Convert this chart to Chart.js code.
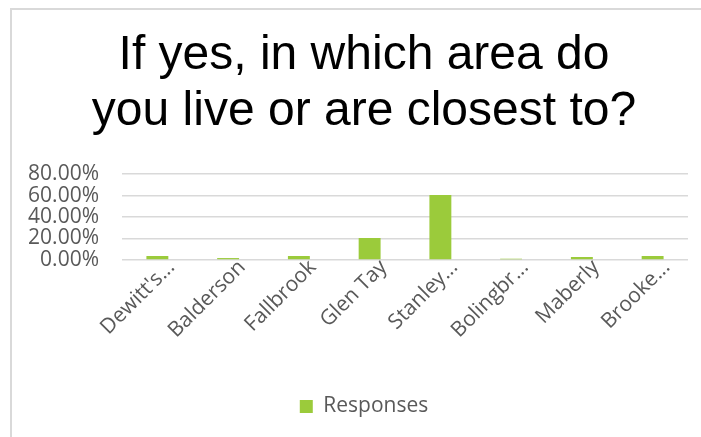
<!DOCTYPE html>
<html>
<head>
<meta charset="utf-8">
<script src="https://cdn.jsdelivr.net/npm/chart.js@4"></script>
<style>
  html, body { margin: 0; padding: 0; background: #fff; }
  #wrap { position: relative; width: 701px; height: 437px; overflow: hidden; }
  #frame { position: absolute; left: 10px; top: 8px; right: -5px; bottom: -5px;
           border-left: 2px solid #d9d9d9; border-top: 2px solid #d9d9d9; }
  #c { position: absolute; left: 0; top: 0; }
</style>
</head>
<body>
<div id="wrap">
  <div id="frame"></div>
  <!-- the chart box runs past the right edge of the window, like the cropped original -->
  <canvas id="c" width="728" height="437"></canvas>
</div>
<script>
const areas = ["Dewitt's...", 'Balderson', 'Fallbrook', 'Glen Tay', 'Stanley...', 'Bolingbr...', 'Maberly', 'Brooke...'];
const responses = [3.7, 1.8, 3.7, 20.5, 60.4, 1.2, 2.8, 3.7];
const titleLines = ['If yes, in which area do', 'you live or are closest to?'];
const yTicks = [0, 20, 40, 60, 80];

const axisFont = { family: "'Open Sans', 'Noto Sans', sans-serif", size: 21 };

new Chart(document.getElementById('c').getContext('2d'), {
  type: 'bar',
  data: {
    labels: areas,
    datasets: [
      {
        label: 'Responses',
        data: responses,
        backgroundColor: '#9bcb3b',
        categoryPercentage: 1,
        barPercentage: 0.31,
      },
    ],
  },
  options: {
    responsive: false,
    animation: false,
    devicePixelRatio: 1,
    layout: { padding: { left: 0, right: 0, top: 0, bottom: 10 } },
    scales: {
      x: {
        grid: { display: false },
        border: { display: false },
        ticks: {
          color: '#595959',
          font: axisFont,
          minRotation: 45,
          maxRotation: 45,
          autoSkip: false,
          padding: -13,
          labelOffset: 14,
        },
        afterFit: (scale) => { scale.height = 126; },
      },
      y: {
        min: 0,
        max: 80,
        afterBuildTicks: (scale) => { scale.ticks = yTicks.map((v) => ({ value: v })); },
        grid: { color: '#d9d9d9', lineWidth: 1.5, drawTicks: false },
        border: { display: false },
        ticks: {
          color: '#595959',
          font: axisFont,
          padding: 23,
          autoSkip: false,
          callback: (v) => v.toFixed(2) + '%',
        },
        afterFit: (scale) => { scale.width = 122; },
      },
      // empty spacer on the right so the plot stops at the same place
      spacer: {
        position: 'right',
        grid: { display: false },
        border: { display: false },
        ticks: { display: false },
        afterFit: (scale) => { scale.width = 40; },
      },
    },
    plugins: {
      title: {
        display: true,
        text: titleLines,
        color: '#000',
        font: { family: "'Liberation Sans', Arial, sans-serif", size: 48, weight: 'normal', lineHeight: 1.167 },
        padding: { top: 28, bottom: 34 },
      },
      legend: {
        position: 'bottom',
        labels: {
          color: '#595959',
          font: axisFont,
          boxWidth: 13,
          boxHeight: 13,
          padding: 10,
        },
      },
      tooltip: { enabled: false },
    },
  },
});
</script>
</body>
</html>
